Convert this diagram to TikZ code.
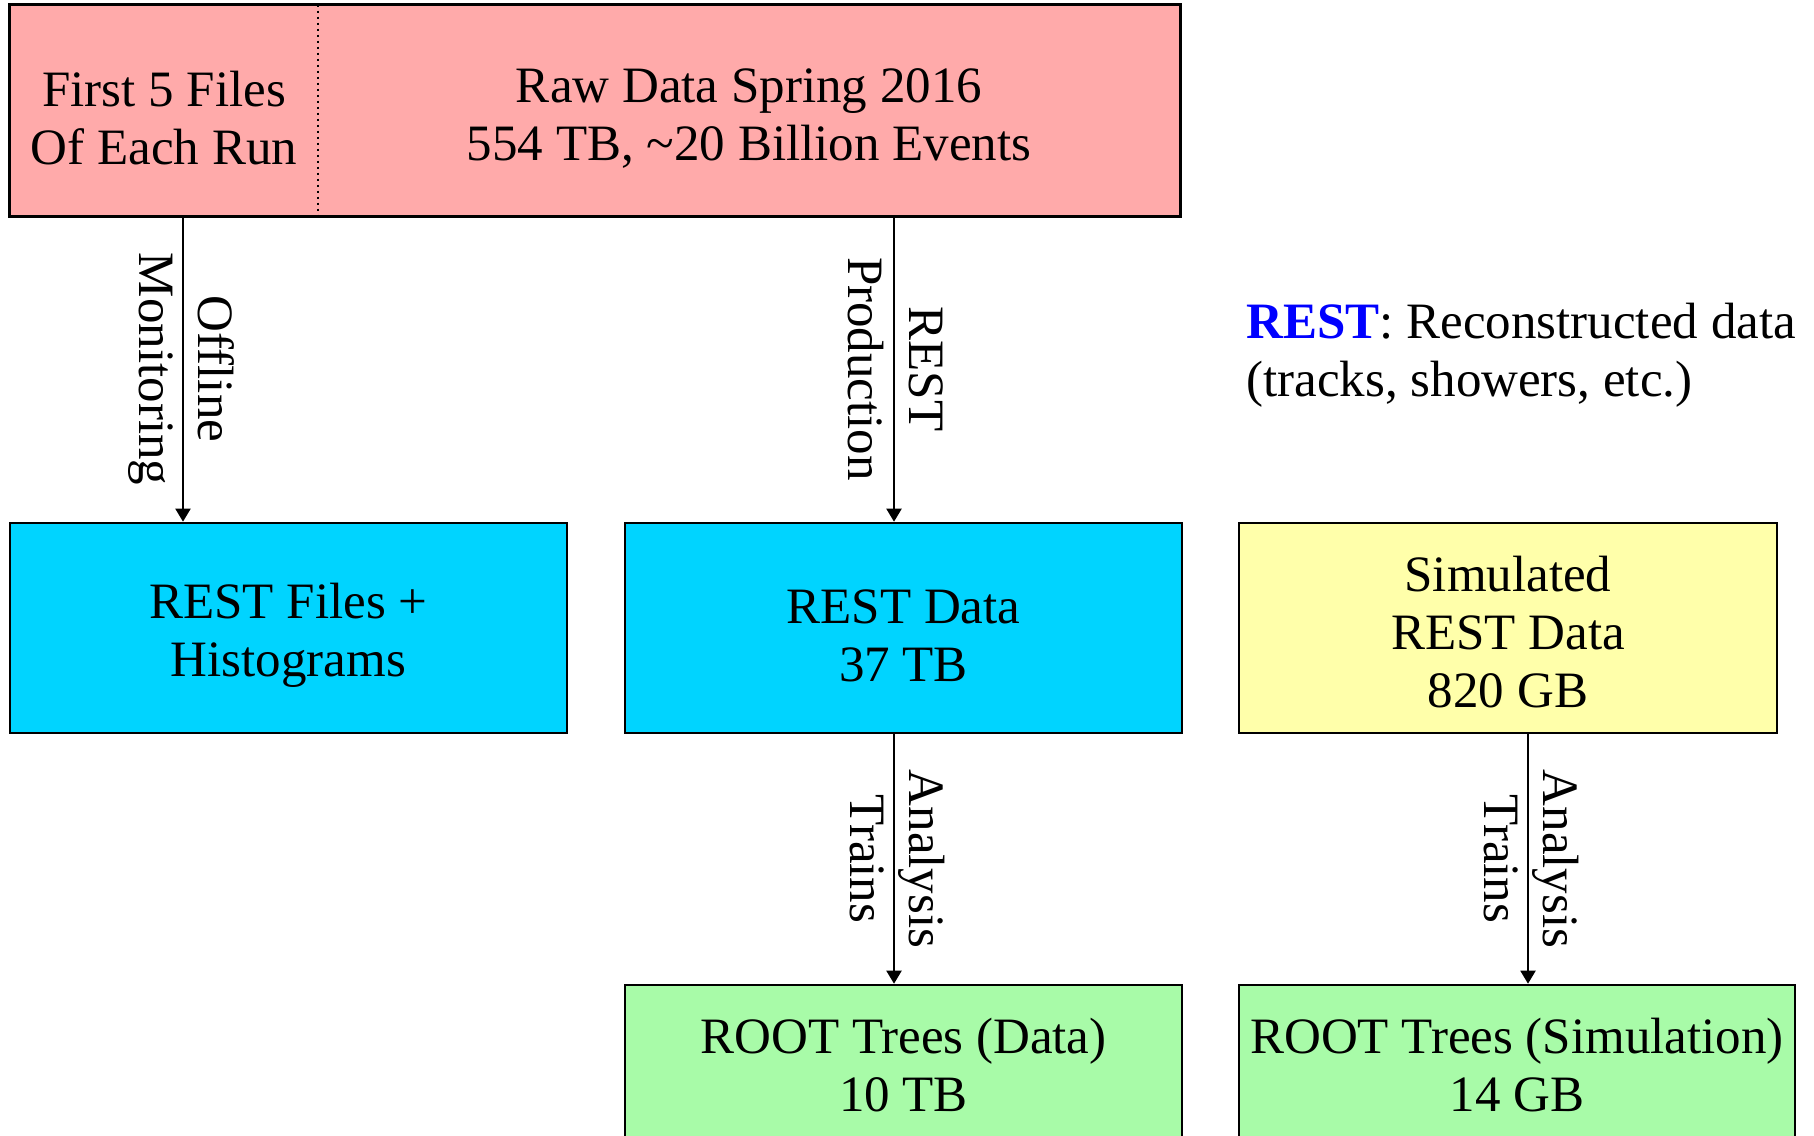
\documentclass[tikz,border=0pt]{standalone}
\usepackage{fontspec}
\setmainfont{Liberation Serif}
\usetikzlibrary{arrows.meta}

\definecolor{rawpink}{HTML}{FFAAAA}
\definecolor{restcyan}{HTML}{00D4FF}
\definecolor{simyellow}{HTML}{FFFFAA}
\definecolor{rootgreen}{HTML}{A8FBA8}
\definecolor{legendblue}{HTML}{0000FF}

% taller first line: lowers the text block a little inside a box
\newcommand{\boxstrut}[1][25pt]{\rule{0pt}{#1}}

\begin{document}
\begin{tikzpicture}[x=0.5pt,y=-0.5pt,
  every node/.style={font=\fontsize{25.5}{29}\selectfont},
  box/.style={draw=black, line width=1.3pt, inner sep=0pt, align=center},
  seg/.style={fill=rawpink, inner sep=0pt, align=center, minimum height=105.5pt},
  frame/.style={draw=black, line width=1.3pt},
  arr/.style={line width=1pt, -{Triangle[length=6.5pt,width=7.5pt]}},
  rlabel/.style={midway, rotate=-90, anchor=south, inner sep=7pt, text depth=0pt},
  llabel/.style={midway, rotate=-90, anchor=north, inner sep=4.5pt}]

\clip (0,0) rectangle (1814,1135);

% raw data block, split into the first-files part and the rest
\node[seg, minimum width=154pt] (first) at (164,110.5) {\boxstrut First 5 Files\\Of Each Run};
\node[seg, minimum width=431pt] (raw) at (749,110.5) {\boxstrut Raw Data Spring 2016\\554 TB, \textasciitilde20 Billion Events};
\draw[frame] (first.north west) rectangle (raw.south east);
\draw[dotted, line width=1pt] (first.north east) -- (first.south east);

% REST level
\node[box, fill=restcyan, minimum width=278.5pt, minimum height=105pt] (restfiles) at (288.5,628) {\boxstrut REST Files +\\Histograms};
\node[box, fill=restcyan, minimum width=278.5pt, minimum height=105pt] (restdata) at (903.5,628) {\boxstrut REST Data\\37 TB};
\node[box, fill=simyellow, minimum width=269pt, minimum height=105pt] (simrest) at (1508,628) {\boxstrut[22pt]Simulated\\REST Data\\820 GB};

% ROOT trees (boxes run past the lower edge)
\node[box, fill=rootgreen, minimum width=278.5pt, minimum height=80pt] (rootdata) at (903.5,1065) {ROOT Trees (Data)\\10 TB};
\node[box, fill=rootgreen, minimum width=278pt, minimum height=80pt] (rootsim) at (1517,1065) {ROOT Trees (Simulation)\\14 GB};

% legend
\node[anchor=north west, inner sep=0pt, align=left] (legend) at (1246,303)
  {\textcolor{legendblue}{\textbf{REST}}: Reconstructed data\\(tracks, showers, etc.)};

% arrow columns
\coordinate (c1) at (183,0);
\coordinate (c2) at (894,0);
\coordinate (c3) at (1528,0);

\draw[arr] (first.south -| c1) -- (restfiles.north -| c1)
  node[rlabel] {Offline} node[llabel] {Monitoring};
\draw[arr] (raw.south -| c2) -- (restdata.north -| c2)
  node[rlabel] {REST} node[llabel] {Production};
\draw[arr] (restdata.south -| c2) -- (rootdata.north -| c2)
  node[rlabel] {Analysis} node[llabel] {Trains};
\draw[arr] (simrest.south -| c3) -- (rootsim.north -| c3)
  node[rlabel] {Analysis} node[llabel] {Trains};

\end{tikzpicture}
\end{document}
